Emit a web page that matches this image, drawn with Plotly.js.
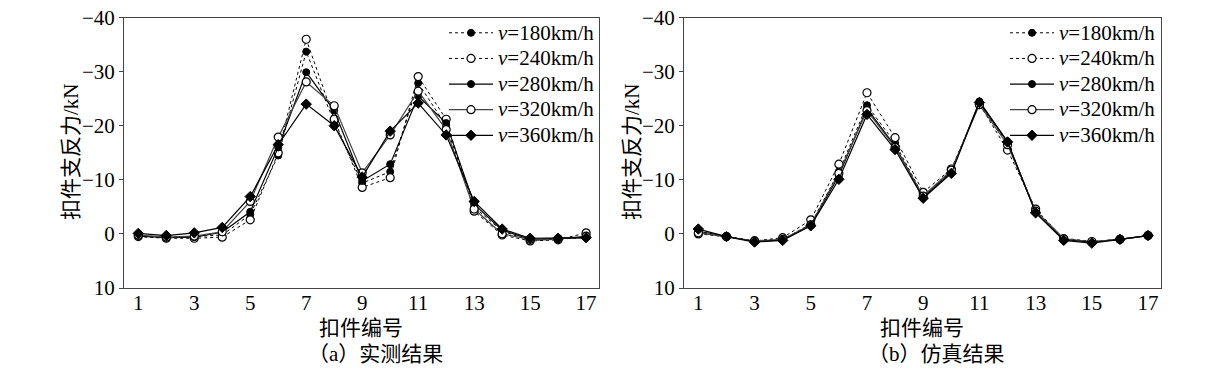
<!DOCTYPE html>
<html>
<head>
<meta charset="utf-8">
<script src="https://cdn.plot.ly/plotly-3.0.1.min.js"></script>
<style>html,body{margin:0;padding:0;background:#fff;}#chart{width:1224px;height:382px;}</style>
</head>
<body>
<div id="chart"></div>
<script>
const fastenerNo = [1,2,3,4,5,6,7,8,9,10,11,12,13,14,15,16,17];
const xTickVals = [1,3,5,7,9,11,13,15,17];
const yTickVals = [-40,-30,-20,-10,0,10];
const speedLabels = ["180km/h","240km/h","280km/h","320km/h","360km/h"];

// (a) measured
const meas180 = [0.3,0.6,0.5,0.2,-3.6,-14.5,-33.7,-20.6,-9.4,-11.5,-27.9,-20.0,-5.0,-0.5,1.2,1.0,0.6];
const meas240 = [0.5,0.8,0.8,0.6,-2.6,-15.0,-36.0,-21.2,-8.6,-10.4,-29.1,-21.2,-4.2,0.2,1.3,1.1,-0.2];
const meas280 = [0.4,0.7,0.6,-0.3,-4.1,-16.0,-29.9,-22.8,-9.8,-12.9,-25.5,-20.5,-5.5,-0.7,1.0,0.8,0.7];
const meas320 = [0.2,0.6,0.4,-0.4,-6.0,-17.9,-28.1,-23.7,-11.3,-18.3,-26.4,-19.3,-4.6,0.0,1.0,0.9,0.4];
const meas360 = [-0.1,0.3,-0.2,-1.2,-6.9,-16.5,-24.0,-20.0,-10.5,-19.0,-24.2,-18.3,-6.0,-0.9,0.8,0.8,0.7];

// (b) simulated
const sim180 = [-0.3,0.5,1.3,1.0,-1.8,-11.5,-23.8,-16.8,-7.0,-11.6,-24.2,-16.8,-4.3,0.8,1.4,1.0,0.3];
const sim240 = [0.0,0.5,1.3,0.7,-2.6,-12.9,-26.1,-17.8,-7.7,-12.0,-24.0,-15.5,-4.6,0.9,1.5,1.0,0.3];
const sim280 = [-0.5,0.5,1.4,1.1,-1.6,-10.8,-23.2,-16.2,-6.8,-11.4,-24.5,-17.1,-4.0,1.0,1.5,1.0,0.3];
const sim320 = [-0.2,0.5,1.3,1.0,-1.7,-11.2,-22.8,-16.0,-7.0,-11.8,-23.9,-16.5,-4.2,0.9,1.4,1.0,0.3];
const sim360 = [-0.9,0.5,1.5,1.2,-1.5,-10.1,-22.1,-15.6,-6.6,-11.2,-24.3,-17.0,-3.9,1.2,1.7,1.0,0.3];

const styles = [
  {line:{color:'#000',width:1,dash:'dot'}, marker:{symbol:'circle',size:7,color:'#000',line:{color:'#000',width:1}}},
  {line:{color:'#000',width:1,dash:'dot'}, marker:{symbol:'circle',size:8,color:'#fff',line:{color:'#000',width:1.2}}},
  {line:{color:'#000',width:1.2}, marker:{symbol:'circle',size:7,color:'#000',line:{color:'#000',width:1}}},
  {line:{color:'#444',width:1.2}, marker:{symbol:'circle',size:8,color:'#fff',line:{color:'#000',width:1.2}}},
  {line:{color:'#000',width:1.2}, marker:{symbol:'diamond',size:8,color:'#000',line:{color:'#000',width:1}}}
];

const nameOf = (s)=>'<span style="font-size:21px"><i>v</i>='+s+'</span>';
const measSets = [meas180,meas240,meas280,meas320,meas360];
const simSets = [sim180,sim240,sim280,sim320,sim360];
const traces = [];
measSets.forEach((ys,i)=>traces.push(Object.assign({x:fastenerNo,y:ys,name:nameOf(speedLabels[i]),type:'scatter',mode:'lines+markers',xaxis:'x',yaxis:'y',legend:'legend'},JSON.parse(JSON.stringify(styles[i])))));
simSets.forEach((ys,i)=>traces.push(Object.assign({x:fastenerNo,y:ys,name:nameOf(speedLabels[i]),type:'scatter',mode:'lines+markers',xaxis:'x2',yaxis:'y2',legend:'legend2'},JSON.parse(JSON.stringify(styles[i])))));

const W=1224,H=382;
const FONT="Liberation Serif, Times New Roman, serif";
const CJK="Liberation Serif, Noto Sans CJK SC, serif";
const axX = (dom)=>({domain:dom,range:[0.49,17.46],tickvals:xTickVals,ticks:'',showline:true,mirror:true,linecolor:'#444',linewidth:1,zeroline:false,showgrid:false,tickfont:{family:FONT,size:21,color:'#000'},ticklabelstandoff:-4,fixedrange:true});
const axY = (anchor)=>({domain:[(H-288)/H,(H-17.6)/H],range:[10,-40],tickvals:yTickVals,ticks:'outside',ticklen:4,tickcolor:'#444',showline:true,mirror:true,linecolor:'#444',linewidth:1,zeroline:false,showgrid:false,tickfont:{family:FONT,size:21,color:'#000'},anchor:anchor,ticklabelstandoff:0});

const legendBase = {font:{family:FONT,size:17.4,color:'#000'},bgcolor:'rgba(0,0,0,0)',xanchor:'right',yanchor:'top',y:(H-15)/H,tracegroupgap:0,itemwidth:44};

const layout = {
  width:W,height:H,margin:{l:0,r:0,t:0,b:0},paper_bgcolor:'#fff',plot_bgcolor:'#fff',
  xaxis:Object.assign(axX([124/W,599/W]),{anchor:'y'}),
  yaxis:axY('x'),
  xaxis2:Object.assign(axX([684/W,1161/W]),{anchor:'y2'}),
  yaxis2:axY('x2'),
  legend:Object.assign({},legendBase,{x:600/W}),
  legend2:Object.assign({},legendBase,{x:1161/W}),
  annotations:[
    {text:'扣件支反力/kN',xref:'paper',yref:'paper',x:71/W,y:(H-152)/H,xanchor:'center',yanchor:'middle',textangle:-90,showarrow:false,font:{family:CJK,size:21,color:'#000'}},
    {text:'扣件支反力/kN',xref:'paper',yref:'paper',x:632/W,y:(H-152)/H,xanchor:'center',yanchor:'middle',textangle:-90,showarrow:false,font:{family:CJK,size:21,color:'#000'}},
    {text:'扣件编号',xref:'paper',yref:'paper',x:361/W,y:(H-328)/H,xanchor:'center',yanchor:'middle',showarrow:false,font:{family:CJK,size:21,color:'#000'}},
    {text:'扣件编号',xref:'paper',yref:'paper',x:922/W,y:(H-328)/H,xanchor:'center',yanchor:'middle',showarrow:false,font:{family:CJK,size:21,color:'#000'}},
    {text:'（a）实测结果',xref:'paper',yref:'paper',x:375/W,y:(H-354)/H,xanchor:'center',yanchor:'middle',showarrow:false,font:{family:CJK,size:21,color:'#000'}},
    {text:'（b）仿真结果',xref:'paper',yref:'paper',x:937/W,y:(H-354)/H,xanchor:'center',yanchor:'middle',showarrow:false,font:{family:CJK,size:21,color:'#000'}}
  ]
};
Plotly.newPlot('chart',traces,layout,{staticPlot:true,displayModeBar:false});
</script>
</body>
</html>
